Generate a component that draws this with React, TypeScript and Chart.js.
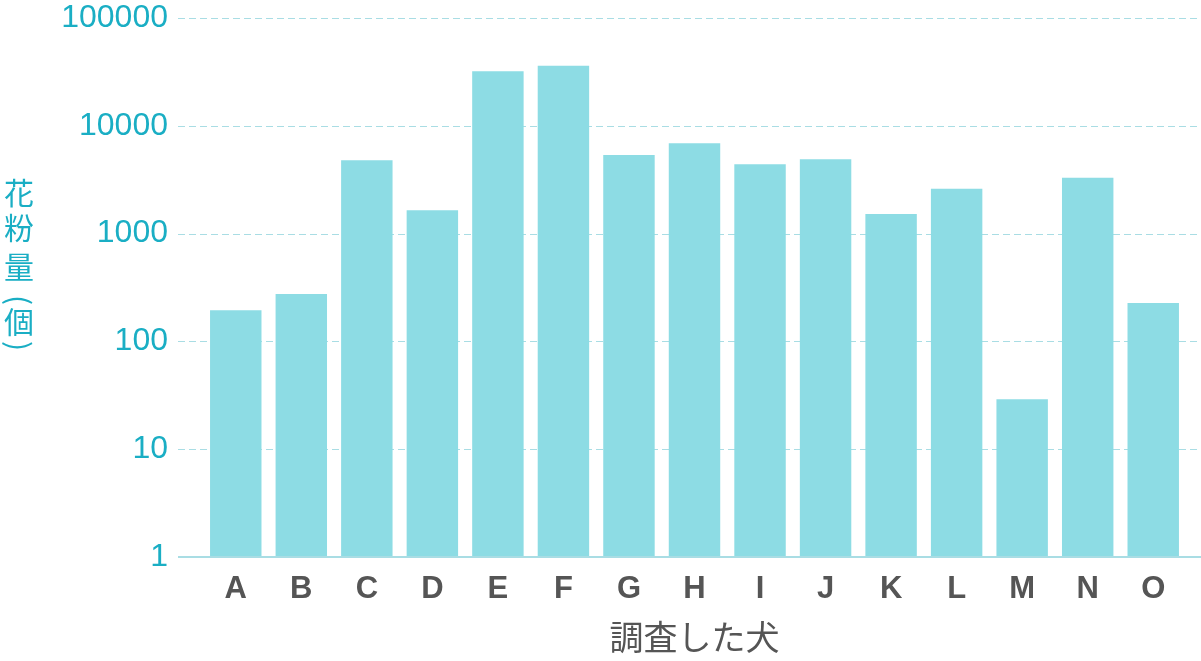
import React, { useEffect, useRef } from "react";
import { Chart, registerables } from "chart.js";

Chart.register(...registerables);

const categories = ["A", "B", "C", "D", "E", "F", "G", "H", "I", "J", "K", "L", "M", "N", "O"];
const pollenCounts = [195, 275, 4800, 1650, 32000, 36000, 5350, 6900, 4400, 4900, 1520, 2600, 29, 3300, 227];
const yTickValues = [1, 10, 100, 1000, 10000, 100000];
const xTitle = "調査した犬";
const yTitleChars = ["花", "粉", "量", "(", "個", ")"];

const TEAL = "#1aaec4";
const BAR = "#8ddce4";
const GRID = "#a9dde4";
const DARK = "#555555";

export default function App() {
  const ref = useRef<HTMLCanvasElement | null>(null);

  useEffect(() => {
    document.body.style.margin = "0";
    const canvas = ref.current;
    if (!canvas) return;

    const extraLines = {
      id: "extraLines",
      beforeDatasetsDraw(chart: any) {
        const ctx = chart.ctx;
        const y = chart.scales.y;
        ctx.save();
        ctx.strokeStyle = GRID;
        ctx.lineWidth = 1;
        ctx.setLineDash([7, 4]);
        yTickValues.forEach((v) => {
          if (v === 1) return;
          const py = Math.round(y.getPixelForValue(v)) + 0.5;
          ctx.beginPath();
          ctx.moveTo(178, py);
          ctx.lineTo(chart.width, py);
          ctx.stroke();
        });
        ctx.restore();
      },
      afterDatasetsDraw(chart: any) {
        const ctx = chart.ctx;
        const y = chart.scales.y;
        ctx.save();
        ctx.strokeStyle = GRID;
        ctx.lineWidth = 2;
        const py = Math.round(y.getPixelForValue(1));
        ctx.beginPath();
        ctx.moveTo(178, py);
        ctx.lineTo(chart.width, py);
        ctx.stroke();
        // vertical y title
        ctx.fillStyle = TEAL;
        ctx.font = '30px "Noto Sans CJK JP"';
        ctx.textAlign = "center";
        ctx.textBaseline = "middle";
        const ys = [193, 228, 267, 300, 322, 346];
        yTitleChars.forEach((c, i) => {
          if (c === "(" || c === ")") {
            ctx.save();
            ctx.translate(19, ys[i]);
            ctx.rotate(Math.PI / 2);
            ctx.fillText(c, 0, 0);
            ctx.restore();
          } else {
            ctx.fillText(c, 19, ys[i]);
          }
        });
        ctx.restore();
      },
    };

    const chart = new Chart(canvas, {
      type: "bar",
      data: {
        labels: categories,
        datasets: [
          {
            data: pollenCounts,
            backgroundColor: BAR,
            borderWidth: 0,
            categoryPercentage: 1,
            barPercentage: 0.785,
          },
        ],
      },
      options: {
        responsive: false,
        animation: false,
        maintainAspectRatio: false,
        layout: { padding: { top: 18, right: 15, left: 0, bottom: 4 } },
        plugins: { legend: { display: false }, tooltip: { enabled: false } },
        scales: {
          x: {
            grid: { display: false, drawTicks: false },
            border: { display: false },
            ticks: {
              color: DARK,
              padding: 14,
              font: { family: '"Liberation Sans", Arial, sans-serif', size: 31, weight: "bold" },
            },
            title: {
              display: true,
              text: xTitle,
              color: DARK,
              padding: { top: 0, bottom: 0 },
              font: { family: '"Noto Sans CJK JP", sans-serif', size: 34 },
            },
            afterFit(scale: any) {
              scale.height = 100;
            },
          },
          y: {
            type: "logarithmic",
            min: 1,
            max: 100000,
            grid: { display: false, drawTicks: false },
            border: { display: false },
            afterBuildTicks(scale: any) {
              scale.ticks = yTickValues.map((v) => ({ value: v }));
            },
            afterFit(scale: any) {
              scale.width = 203;
              scale.paddingTop = 0;
              scale.paddingBottom = 0;
            },
            ticks: {
              color: TEAL,
              padding: 35,
              font: { family: '"Liberation Sans", Arial, sans-serif', size: 32 },
              callback: (v: any) => String(v),
            },
          },
        },
      },
      plugins: [extraLines],
    });

    return () => chart.destroy();
  }, []);

  return (
    <div style={{ width: 1201, height: 661 }}>
      <canvas ref={ref} width={1201} height={661} style={{ display: "block" }} />
    </div>
  );
}
